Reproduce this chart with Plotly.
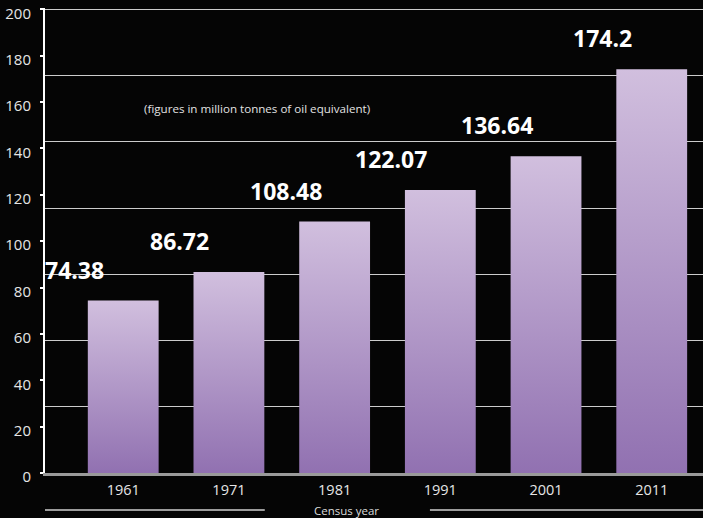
import plotly.graph_objects as go

# ---- data ----
years = ["1961", "1971", "1981", "1991", "2001", "2011"]
values = [74.38, 86.72, 108.48, 122.07, 136.64, 174.2]
value_labels = ["74.38", "86.72", "108.48", "122.07", "136.64", "174.2"]
y_ticks = [0, 20, 40, 60, 80, 100, 120, 140, 160, 180, 200]
subtitle = "(figures in million tonnes of oil equivalent)"
x_title = "Census year"

BAR_W = 0.67
FONT = "Open Sans"
Y_TOP = 200.6

fig = go.Figure()

for i, v in enumerate(values):
    x0, x1 = i - BAR_W / 2, i + BAR_W / 2
    fig.add_trace(go.Scatter(
        x=[x0, x0, x1, x1, x0], y=[0, v, v, 0, 0],
        fill="toself", mode="lines", line=dict(width=0),
        fillgradient=dict(type="vertical",
                          colorscale=[[0, "#9171b1"], [1, "#d1bfde"]]),
        hoverinfo="skip", showlegend=False,
    ))

# an invisible trace on the overlay axis so the gridlines render
fig.add_trace(go.Scatter(x=[0], y=[0], yaxis="y2", mode="markers",
                         marker=dict(opacity=0), hoverinfo="skip",
                         showlegend=False))

for i, (v, t) in enumerate(zip(values, value_labels)):
    fig.add_annotation(x=i, y=v, text=t, showarrow=False,
                       xshift=-49, yshift=31, yanchor="middle",
                       font=dict(family=FONT, size=23, color="#ffffff",
                                 weight="bold"))

fig.add_annotation(xref="paper", yref="paper", x=0.1474, y=0.7845,
                   xanchor="left", yanchor="middle", text=subtitle,
                   showarrow=False,
                   font=dict(family=FONT, size=11.6, color="#e2e2e2"))

fig.add_annotation(xref="paper", yref="paper", x=0.4575, y=-0.0797,
                   xanchor="center", yanchor="middle", text=x_title,
                   showarrow=False,
                   font=dict(family=FONT, size=11.5, color="#dcdcdc"))

for xa, xb in [(0.0, 0.334), (0.585, 1.0)]:
    fig.add_shape(type="line", xref="paper", yref="paper",
                  x0=xa, x1=xb, y0=-0.0797, y1=-0.0797,
                  line=dict(color="#cfcfcf", width=1.5))

fig.update_layout(
    width=703, height=518,
    margin=dict(l=45, r=0, t=8, b=45, autoexpand=False),
    paper_bgcolor="#050505", plot_bgcolor="#050505",
    showlegend=False,
    xaxis=dict(
        range=[-0.74, 5.485], automargin=False,
        tickmode="array", tickvals=list(range(len(years))), ticktext=years,
        showgrid=False, zeroline=False,
        showline=True, linecolor="#9a9a9a", linewidth=2.5,
        ticks="", ticklabelstandoff=2,
        tickfont=dict(family=FONT, size=14.5, color="#e6e6e6"),
    ),
    yaxis=dict(
        range=[0, Y_TOP], automargin=False,
        tickmode="array", tickvals=y_ticks,
        showgrid=False, zeroline=False,
        showline=True, linecolor="#ffffff", linewidth=2,
        ticks="outside", ticklen=3, tickcolor="#ffffff", tickwidth=1.5,
        ticklabelstandoff=6, ticklabelshift=4, ticklabeloverflow="allow",
        tickfont=dict(family=FONT, size=15, color="#e6e6e6"),
    ),
    yaxis2=dict(
        range=[0, Y_TOP], overlaying="y", anchor="x", side="right",
        automargin=False,
        tick0=0, dtick=200 / 7,
        showgrid=True, gridcolor="#cccccc", gridwidth=1.3,
        showticklabels=False, zeroline=False, showline=False, ticks="",
    ),
)

fig.write_html("out.html")
